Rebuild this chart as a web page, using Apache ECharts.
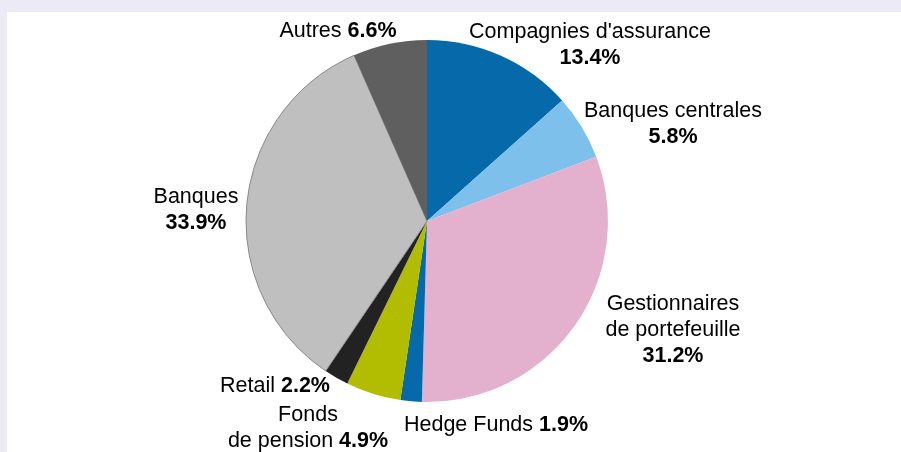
<!DOCTYPE html>
<html>
<head>
<meta charset="utf-8">
<script src="https://cdn.jsdelivr.net/npm/echarts@6/dist/echarts.min.js"></script>
<style>
  html, body { margin: 0; padding: 0; background: #ecebf5; }
  #chart { width: 901px; height: 452px; }
</style>
</head>
<body>
<div id="chart"></div>
<script>
// slices, clockwise from 12 o'clock
var categories = [
  "Compagnies d'assurance",
  "Banques centrales",
  "Gestionnaires\nde portefeuille",
  "Hedge Funds",
  "Fonds\nde pension",
  "Retail",
  "Banques",
  "Autres"
];
var shares = [13.4, 5.8, 31.2, 1.9, 4.9, 2.2, 33.9, 6.6];
// true = percent on its own line under the name
var valueOnNewLine = [true, true, true, false, false, false, true, false];

var sliceColors = ["#0569aa", "#7dc0ec", "#e3b1cd", "#0569aa", "#b2bc00", "#222222", "#bfbfbf", "#5f5f5f"];
// label centres in px
var labelPos = [
  [590, 45], [673, 124], [673, 330], [496, 425],
  [308, 428], [275, 386], [196, 210], [338, 31]
];

function labelText(name, value) {
  var lines = name.split("\n").map(function (l) { return "{n|" + l + "}"; });
  var v = "{b|" + value.toFixed(1) + "%}";
  if (valueOnNewLine[categories.indexOf(name)]) {
    lines.push(v);
  } else {
    lines[lines.length - 1] += "{n| }" + v;
  }
  return lines.join("\n");
}

var data = [];
for (let i = 0; i < categories.length; i++) {
  let item = {
    name: categories[i],
    value: shares[i],
    itemStyle: { color: sliceColors[i] }
  };
  if (categories[i] == "Banques") {
    item.itemStyle.borderColor = "#8a8a8a";
    item.itemStyle.borderWidth = 1;
  }
  data.push(item);
}

var myChart = echarts.init(document.getElementById("chart"), null, { renderer: "canvas" });
var option = {
  animation: false,
  backgroundColor: "#ecebf5",
  graphic: [
    {
      type: "rect",
      z: -10,
      shape: { x: 7, y: 12, width: 894, height: 440 },
      style: { fill: "#ffffff" }
    }
  ],
  series: [
    {
      type: "pie",
      center: [427, 221],
      radius: 181,
      startAngle: 90,
      clockwise: true,
      data: data,
      labelLine: { show: false },
      label: {
        show: true,
        position: "outside",
        formatter: function (p) { return labelText(p.name, p.value); },
        align: "center",
        rich: {
          n: { fontFamily: "Liberation Sans, Arial", fontSize: 21.5, color: "#000", lineHeight: 26 },
          b: { fontFamily: "Liberation Sans, Arial", fontSize: 21.5, fontWeight: "bold", color: "#000", lineHeight: 26 }
        }
      },
      labelLayout: function (params) {
        let pos = labelPos[params.dataIndex];
        return { x: pos[0], y: pos[1], align: "center", verticalAlign: "middle" };
      },
      emphasis: { disabled: true }
    }
  ]
};
myChart.setOption(option);
</script>
</body>
</html>
